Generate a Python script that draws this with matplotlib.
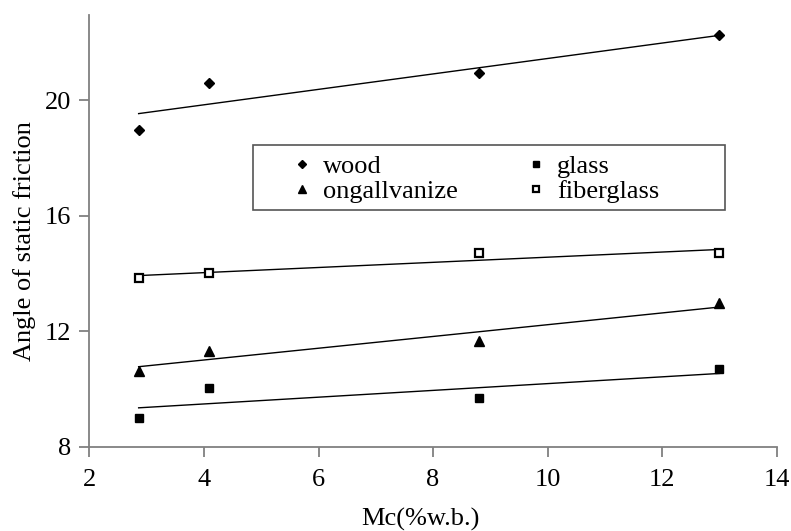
import numpy as np
import matplotlib.pyplot as plt
from matplotlib.patches import Rectangle

plt.rcParams['font.family'] = ['Liberation Serif', 'DejaVu Serif']

# moisture content (% w.b.)
moisture = [2.86, 4.09, 8.8, 13.0]

# angle of static friction on each surface
wood = [18.95, 20.6, 20.95, 22.25]
glass = [9.0, 10.04, 9.69, 10.67]
ongallvanize = [10.63, 11.32, 11.66, 12.98]
fiberglass = [13.85, 14.0, 14.69, 14.69]

series = [
    ("wood", wood, dict(marker="D", ms=5.3, mfc="black", mec="black")),
    ("ongallvanize", ongallvanize, dict(marker="^", ms=7.2, mfc="black", mec="black")),
    ("glass", glass, dict(marker="s", ms=5.8, mfc="black", mec="black")),
    ("fiberglass", fiberglass, dict(marker="s", ms=5.3, mfc="white", mec="black", mew=1.6)),
]

FS = 19

fig = plt.figure(figsize=(7.91, 5.31), dpi=100)
ax = fig.add_axes([0.113, 0.159, 0.869, 0.813])

x = np.array(moisture)
handles = []
for name, vals, style in series:
    h, = ax.plot(x, vals, linestyle="none", label=name, zorder=3, **style)
    handles.append(h)
    # linear trendline over the data range
    k, b = np.polyfit(x, vals, 1)
    xs = np.array([x.min(), x.max()])
    ax.plot(xs, k * xs + b, color="black", lw=1.0, zorder=2)

ax.set_xlim(2, 14)
ax.set_ylim(8, 22.95)
ax.set_xticks([2, 4, 6, 8, 10, 12, 14])
ax.set_yticks([8, 12, 16, 20])

for side in ("top", "right"):
    ax.spines[side].set_visible(False)
for side in ("left", "bottom"):
    ax.spines[side].set_color("#808080")
    ax.spines[side].set_linewidth(1.3)
ax.tick_params(axis="both", direction="out", length=7, width=1.3,
               color="#808080", labelsize=FS)
ax.tick_params(axis="x", pad=9)
ax.tick_params(axis="y", pad=6)

ax.set_xlabel("Mc(%w.b.)", fontsize=FS)
ax.set_ylabel("Angle of static friction", fontsize=FS)
ax.xaxis.set_label_coords(0.481, -0.142)
ax.yaxis.set_label_coords(-0.078, 0.4765)

# legend box drawn separately so the padding can be uneven
fig.patches.append(Rectangle((0.3198, 0.6045), 0.5967, 0.1224,
                             transform=fig.transFigure, fill=False,
                             edgecolor="#555555", lw=1.2))
fig.legend(handles=handles, labels=[h.get_label() for h in handles],
           ncol=2, loc="upper left", bbox_to_anchor=(0.365, 0.709),
           fontsize=FS, frameon=False, handlelength=1.0,
           handletextpad=0.3, borderpad=0, borderaxespad=0,
           labelspacing=0.07, columnspacing=2.45, markerscale=0.75)

fig.savefig("out.png", dpi=100)
